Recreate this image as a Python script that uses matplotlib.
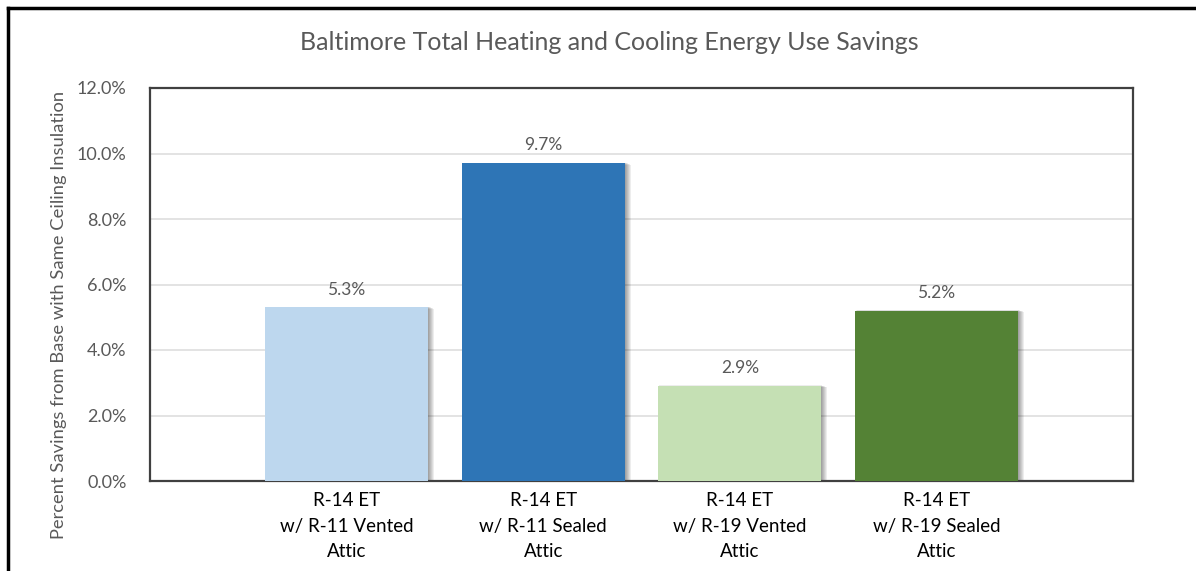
import matplotlib.pyplot as plt
from matplotlib.lines import Line2D
from matplotlib.ticker import FuncFormatter

# chart data
categories = ['R-14 ET\nw/ R-11 Vented\nAttic', 'R-14 ET\nw/ R-11 Sealed\nAttic',
              'R-14 ET\nw/ R-19 Vented\nAttic', 'R-14 ET\nw/ R-19 Sealed\nAttic']
savings = [5.3, 9.7, 2.9, 5.2]
bar_colors = ['#BDD7EE', '#2E75B6', '#C5E0B4', '#548235']

plt.rcParams['font.family'] = ['Lato', 'DejaVu Sans']

fig = plt.figure(figsize=(11.96, 5.71), dpi=100)
ax = fig.add_axes([150 / 1196, 1 - 481 / 571, 983 / 1196, 393 / 571])

positions = [i + 1 for i in range(len(categories))]
bar_width = 0.83
px = 5 / 983  # one pixel in data units along x

# soft drop shadow behind each bar
for k in range(6, 0, -1):
    ax.bar([p + k * px for p in positions], [v + 0.012 * (3 - k) for v in savings],
           bar_width, color='#000000', alpha=0.07, zorder=2, linewidth=0)
ax.bar(positions, savings, bar_width, color=bar_colors, zorder=3, linewidth=0)

for p, v in zip(positions, savings):
    ax.text(p, v + 0.3, f'{v:.1f}%', ha='center', va='bottom', fontsize=12.5,
            color='#595959')

ax.set_xlim(0, 5)
ax.set_ylim(0, 12)
ax.set_yticks([0, 2, 4, 6, 8, 10, 12])
ax.yaxis.set_major_formatter(FuncFormatter(lambda v, _: f'{v:.1f}%'))
ax.set_xticks(positions)
ax.set_xticklabels(categories, fontsize=13.5, color='#000000', linespacing=1.6)
ax.tick_params(axis='both', length=0)
ax.tick_params(axis='y', labelsize=13, labelcolor='#595959', pad=17)
ax.tick_params(axis='x', pad=8)
ax.grid(axis='y', color='#E0E0E0', linewidth=1.3, zorder=0)
ax.set_axisbelow(True)
for s in ax.spines.values():
    s.set_color('#404040')
    s.set_linewidth(1.6)

ax.set_ylabel('Percent Savings from Base with Same Ceiling Insulation',
              fontsize=13.2, color='#595959')
ax.yaxis.set_label_coords((67 - 150) / 983, (481 - 315) / 393)

fig.text(609 / 1196, 1 - 43 / 571, 'Baltimore Total Heating and Cooling Energy Use Savings',
         ha='center', va='center', fontsize=18, color='#595959')

# outer chart frame (left and top edges only visible)
fig.add_artist(Line2D([8 / 1196, 8 / 1196], [0, 1 - 8 / 571], transform=fig.transFigure,
                      color='black', linewidth=2.5))
fig.add_artist(Line2D([8 / 1196, 1], [1 - 8 / 571, 1 - 8 / 571], transform=fig.transFigure,
                      color='black', linewidth=2.5))

fig.savefig('out.png', dpi=100)
